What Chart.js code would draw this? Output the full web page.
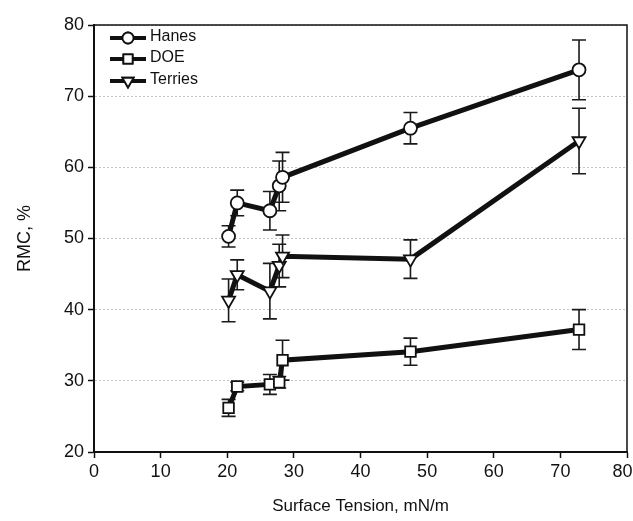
<!DOCTYPE html>
<html>
<head>
<meta charset="utf-8">
<script src="https://cdn.jsdelivr.net/npm/chart.js@4/dist/chart.umd.min.js"></script>
<style>
  html, body { margin: 0; padding: 0; background: #fff; }
  canvas { display: block; }
</style>
</head>
<body>
<canvas id="rmcChart" width="633" height="521"></canvas>
<script>
// values
const surfaceTension = [20.2, 21.5, 26.4, 27.8, 28.3, 47.5, 72.8];

const hanes      = [50.3, 55.0, 53.9, 57.4, 58.6, 65.5, 73.7];
const hanesErr   = [1.5, 1.8, 2.7, 3.5, 3.5, 2.2, 4.2];

const doe        = [26.2, 29.2, 29.5, 29.8, 32.9, 34.1, 37.2];
const doeErr     = [1.2, 0.6, 1.4, 0.8, 2.8, 1.9, 2.8];

const terries    = [41.3, 44.9, 42.6, 46.2, 47.5, 47.1, 63.7];
const terriesErr = [3.0, 2.1, 3.9, 3.0, 3.0, 2.7, 4.6];

const seriesNames = ['Hanes', 'DOE', 'Terries'];
const xTicks = [0, 10, 20, 30, 40, 50, 60, 70, 80];
const yTicks = [20, 30, 40, 50, 60, 70, 80];

const FONT = '"Liberation Sans", Arial, sans-serif';
const toPoints = ys => ys.map((v, i) => ({ x: surfaceTension[i], y: v }));
const errors = [hanesErr, doeErr, terriesErr];

// error bars, drawn beneath the markers
const errorBars = {
  id: 'errorBars',
  beforeDatasetsDraw(chart) {
    const { ctx, scales: { x, y } } = chart;
    ctx.save();
    ctx.strokeStyle = '#1a1a1a';
    ctx.lineWidth = 1.6;
    chart.data.datasets.forEach((ds, d) => {
      ds.data.forEach((p, i) => {
        const e = errors[d][i];
        const px = x.getPixelForValue(p.x);
        const top = y.getPixelForValue(p.y + e);
        const bot = y.getPixelForValue(p.y - e);
        ctx.beginPath();
        ctx.moveTo(px, top); ctx.lineTo(px, bot);
        ctx.moveTo(px - 7, top); ctx.lineTo(px + 7, top);
        ctx.moveTo(px - 7, bot); ctx.lineTo(px + 7, bot);
        ctx.stroke();
      });
    });
    ctx.restore();
  }
};

// frame on top/right and the legend box in the upper left
const frameAndLegend = {
  id: 'frameAndLegend',
  afterDraw(chart) {
    const { ctx, chartArea: a } = chart;
    ctx.save();
    ctx.strokeStyle = '#111';
    ctx.lineWidth = 1.5;
    ctx.beginPath();
    ctx.moveTo(a.left, a.top); ctx.lineTo(a.right, a.top); ctx.lineTo(a.right, a.bottom);
    ctx.stroke();

    const rows = [38, 59, 81];
    chart.data.datasets.forEach((ds, i) => {
      const yy = rows[i];
      ctx.strokeStyle = '#111';
      ctx.lineWidth = 4;
      ctx.beginPath();
      ctx.moveTo(110, yy); ctx.lineTo(146, yy);
      ctx.stroke();
      ctx.fillStyle = '#fff';
      ctx.lineWidth = 1.8;
      Chart.helpers.drawPoint(ctx, {
        pointStyle: ds.pointStyle, rotation: ds.pointRotation || 0,
        radius: ds.pointRadius - 1, borderWidth: 1.8
      }, 128, yy);
      ctx.fill();
      ctx.stroke();
      ctx.fillStyle = '#111';
      ctx.font = '16px ' + FONT;
      ctx.textBaseline = 'middle';
      ctx.fillText(seriesNames[i], 150, yy - 1);
    });
    ctx.restore();
  }
};

const common = {
  showLine: true,
  borderColor: '#111',
  borderWidth: 5,
  pointBackgroundColor: '#fff',
  pointBorderColor: '#111',
  pointBorderWidth: 1.8,
  tension: 0
};

new Chart(document.getElementById('rmcChart').getContext('2d'), {
  type: 'scatter',
  data: {
    datasets: [
      { ...common, label: seriesNames[0], data: toPoints(hanes), pointStyle: 'circle', pointRadius: 6.5 },
      { ...common, label: seriesNames[1], data: toPoints(doe), pointStyle: 'rect', pointRadius: 7.5 },
      { ...common, label: seriesNames[2], data: toPoints(terries), pointStyle: 'triangle', pointRotation: 180, pointRadius: 7.5 }
    ]
  },
  options: {
    responsive: false,
    animation: false,
    layout: { autoPadding: false, padding: { top: 25, right: 6, left: 0, bottom: 0 } },
    plugins: { legend: { display: false }, tooltip: { enabled: false } },
    scales: {
      x: {
        type: 'linear',
        min: 0, max: 80,
        afterBuildTicks: s => { s.ticks = xTicks.map(v => ({ value: v })); },
        afterFit: s => { s.height = 69; s.paddingLeft = 0; s.paddingRight = 0; },
        ticks: {
          color: '#111', font: { family: FONT, size: 18 }, padding: 3, maxRotation: 0,
          // last label sits tight against the edge, nudge it left like the original
          callback: v => (v === 80 ? v + '\u2002' : String(v))
        },
        grid: { drawOnChartArea: false, tickLength: 6, tickColor: '#111', tickWidth: 1.5 },
        border: { color: '#111', width: 2 },
        title: { display: true, text: 'Surface Tension, mN/m', color: '#111',
                 font: { family: FONT, size: 17 }, padding: { top: 17 } }
      },
      y: {
        min: 20, max: 80,
        afterBuildTicks: s => { s.ticks = yTicks.map(v => ({ value: v })); },
        afterFit: s => { s.width = 94; s.paddingTop = 0; s.paddingBottom = 0; },
        ticks: { color: '#111', font: { family: FONT, size: 18 }, padding: 4 },
        grid: { color: '#c4c4c4', lineWidth: 1, tickLength: 6, tickColor: '#111', tickWidth: 1.5,
                tickBorderDash: [] },
        border: { color: '#111', width: 2, dash: [2, 2] },
        title: { display: true, text: 'RMC, %', color: '#111',
                 font: { family: FONT, size: 18 }, padding: { top: 14, bottom: 6 } }
      }
    }
  },
  plugins: [errorBars, frameAndLegend]
});
</script>
</body>
</html>
